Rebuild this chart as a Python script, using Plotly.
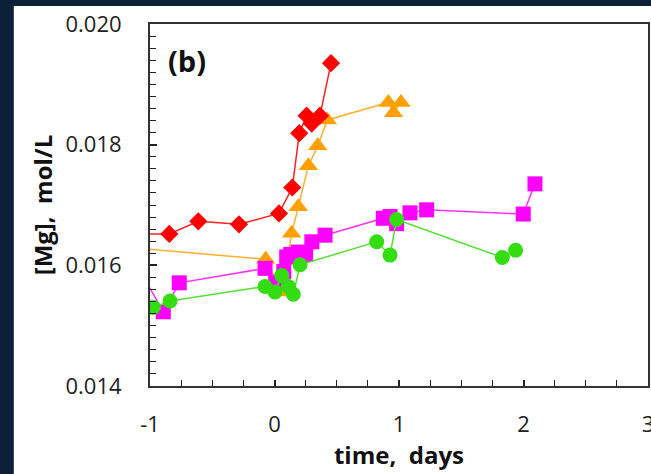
import plotly.graph_objects as go

# Data (time in days, [Mg] in mol/L)
red_x = [-1.15, -0.845, -0.612, -0.285, 0.036, 0.143, 0.199, 0.258, 0.299, 0.365, 0.454]
red_y = [0.01652, 0.01652, 0.01673, 0.01668, 0.01686, 0.01729, 0.01819, 0.01848, 0.01835, 0.01848, 0.01935]

orange_x = [-1.25, -0.071, 0.06, 0.138, 0.191, 0.272, 0.347, 0.424, 0.914, 0.955, 1.016]
orange_y = [0.01631, 0.01610, 0.01556, 0.01653, 0.01697, 0.01765, 0.01798, 0.01841, 0.01870, 0.01853, 0.01870]

magenta_x = [-1.06, -0.893, -0.765, -0.076, 0.01, 0.075, 0.098, 0.13, 0.19, 0.25, 0.30, 0.406,
             0.874, 0.928, 0.981, 1.088, 1.222, 1.998, 2.092]
magenta_y = [0.01584, 0.01523, 0.01571, 0.01595, 0.01572, 0.01590, 0.01614, 0.01618, 0.01622, 0.01618,
             0.01639, 0.01650, 0.01678, 0.01681, 0.01669, 0.01687, 0.01692, 0.01685, 0.01735]

green_x = [-0.973, -0.839, -0.076, 0.004, 0.058, 0.111, 0.151, 0.205, 0.821, 0.928, 0.981, 1.830, 1.937]
green_y = [0.01530, 0.01541, 0.01565, 0.01556, 0.01583, 0.01565, 0.01552, 0.01601, 0.01639, 0.01617,
           0.01676, 0.01613, 0.01625]

x_ticks = [-1, 0, 1, 2, 3]
x_ticklabels = ["-1", "0", "1", "2", "3"]
y_ticks = [0.014, 0.016, 0.018, 0.020]
y_ticklabels = ["0.014", "0.016", "0.018", "0.020"]

fig = go.Figure()

def add(xs, ys, line_color, marker_color, symbol, size):
    fig.add_trace(go.Scatter(
        x=xs, y=ys, mode="lines+markers",
        line=dict(color=line_color, width=1.5),
        marker=dict(color=marker_color, symbol=symbol, size=size, line=dict(width=0)),
        showlegend=False, cliponaxis=True))

add(orange_x, orange_y, "#ffb030", "#ffa000", "triangle-up", 17)
add(red_x, red_y, "#ff2020", "#ff0000", "diamond", 14)
add(magenta_x, magenta_y, "#ff30ff", "#ff00ff", "square", 15)
add(green_x, green_y, "#55e035", "#33dd11", "circle", 15)

font_family = "Open Sans, Liberation Sans, sans-serif"

fig.update_layout(
    width=651, height=474,
    margin=dict(l=150, r=3, t=24, b=88, autoexpand=False),
    paper_bgcolor="#0c2038",
    plot_bgcolor="white",
    font=dict(family=font_family, color="#222222"),
    shapes=[dict(type="rect", xref="paper", yref="paper",
                 x0=-0.2735, x1=1.2, y0=-0.4, y1=1.05,
                 fillcolor="white", line=dict(width=0), layer="below")],
    annotations=[dict(text="<b>(b)</b>", x=-0.87, y=0.0194, xref="x", yref="y",
                      showarrow=False, xanchor="left", yanchor="middle",
                      font=dict(size=29, color="#111111", family=font_family))],
)

fig.update_xaxes(
    range=[-1, 3], tickmode="array", tickvals=x_ticks, ticktext=x_ticklabels, automargin=False,
    ticks="inside", ticklen=6, tickwidth=1.5, tickcolor="#222",
    minor=dict(dtick=0.25, tick0=0, ticks="inside", ticklen=6, tickwidth=1.2, tickcolor="#222", showgrid=False),
    showgrid=False, zeroline=False,
    showline=True, linecolor="#333", linewidth=2, mirror=True,
    tickfont=dict(size=22, color="#222"), ticklabelstandoff=18, ticklabeloverflow="allow",
    title=dict(text="<b>time,  days</b>", font=dict(size=24, color="#111"), standoff=4),
)
fig.update_yaxes(
    range=[0.014, 0.020], tickmode="array", tickvals=y_ticks, ticktext=y_ticklabels, automargin=False,
    ticks="inside", ticklen=7, tickwidth=1.5, tickcolor="#222",
    minor=dict(dtick=0.0002, tick0=0.014, ticks="inside", ticklen=6, tickwidth=1.2, tickcolor="#222", showgrid=False),
    showgrid=False, zeroline=False,
    showline=True, linecolor="#333", linewidth=2, mirror=True,
    tickfont=dict(size=22, color="#222"), ticklabelstandoff=22, ticklabeloverflow="allow",
    title=dict(text="<b>[Mg],  mol/L</b>", font=dict(size=24, color="#111"), standoff=6),
)

fig.write_html("out.html")
